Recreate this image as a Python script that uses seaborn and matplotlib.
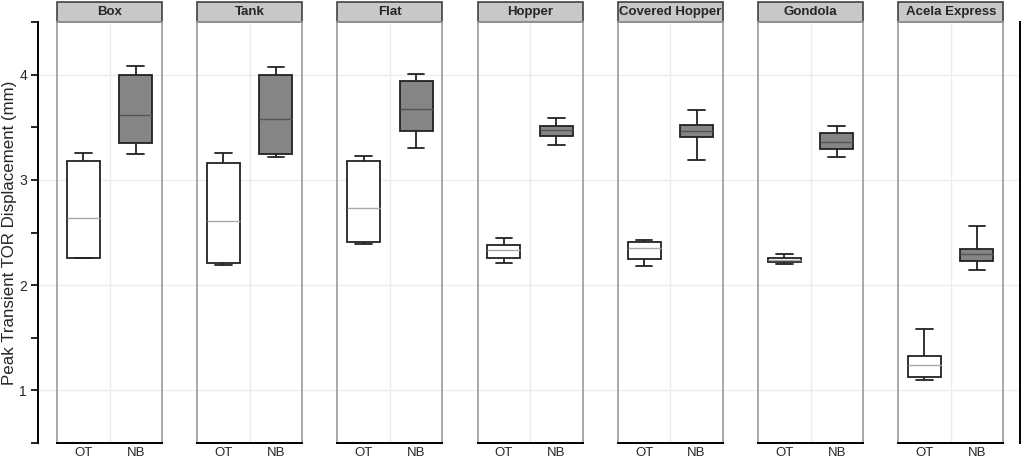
import numpy as np
import pandas as pd
import seaborn as sns
import matplotlib.pyplot as plt
from matplotlib.patches import Rectangle

cars = ["Box", "Tank", "Flat", "Hopper", "Covered Hopper", "Gondola", "Acela Express"]
conds = ["OT", "NB"]

# five-number summaries, per car: [OT, NB]
wlow = [[2.255, 3.25], [2.19, 3.22], [2.39, 3.30], [2.21, 3.33], [2.18, 3.19], [2.20, 3.22], [1.10, 2.14]]
q1 = [[2.26, 3.35], [2.21, 3.25], [2.41, 3.46], [2.26, 3.42], [2.25, 3.41], [2.22, 3.29], [1.13, 2.23]]
med = [[2.64, 3.62], [2.61, 3.58], [2.73, 3.67], [2.33, 3.47], [2.35, 3.46], [2.24, 3.36], [1.24, 2.30]]
q3 = [[3.18, 4.00], [3.16, 4.00], [3.18, 3.94], [2.38, 3.51], [2.41, 3.52], [2.26, 3.45], [1.33, 2.34]]
whigh = [[3.26, 4.08], [3.26, 4.07], [3.23, 4.01], [2.45, 3.59], [2.43, 3.66], [2.30, 3.51], [1.58, 2.56]]

# five points per box -> numpy quartiles land exactly on q1/med/q3
rows = []
for i, car in enumerate(cars):
    for j, c in enumerate(conds):
        for v in [wlow[i][j], q1[i][j], med[i][j], q3[i][j], whigh[i][j]]:
            rows.append({"car": car, "cond": c, "val": v})
df = pd.DataFrame(rows)

sns.set_style("white")
plt.rcParams["font.family"] = ["Liberation Sans", "DejaVu Sans"]

fig = plt.figure(figsize=(10.24, 4.59), dpi=100)
W, H = 1024, 459
bot = 1 - 443 / H
hgt = 421 / H

# background axis carrying the y scale, the grid and the right line
axy = fig.add_axes([38 / W, bot, (1020 - 38) / W, hgt])
axy.set_ylim(0.5, 4.5)
axy.set_xlim(0, 1)
axy.set_yticks([1, 2, 3, 4])
axy.set_yticks(np.arange(0.5, 4.51, 0.5), minor=True)
axy.set_xticks([])
axy.grid(axis="y", which="major", color="#ececec", linewidth=1)
axy.set_facecolor("none")
for s in ["top", "bottom"]:
    axy.spines[s].set_visible(False)
for s in ["left", "right"]:
    axy.spines[s].set_color("black")
    axy.spines[s].set_linewidth(1.4)
axy.tick_params(axis="y", which="both", direction="out", length=5, width=1.2,
                left=True, right=False, labelsize=10, color="black", pad=3)
axy.set_ylabel("Peak Transient TOR Displacement (mm)", fontsize=12.2)
axy.yaxis.set_label_coords(-21 / 982, 0.5)

pal = {"OT": "white", "NB": "#858585"}
med_col = {"OT": "#aaaaaa", "NB": "#555555"}

for i, car in enumerate(cars):
    x0 = 57 + i * 140.2
    ax = fig.add_axes([x0 / W, bot, 105 / W, hgt], sharey=axy)
    ax.set_facecolor("none")
    ax.axvline(0.5, color="#ececec", linewidth=1, zorder=0)
    sub = df[df["car"] == car]
    sns.boxplot(data=sub, x="cond", y="val", hue="cond", order=conds, hue_order=conds,
                palette=pal, width=0.63, whis=(0, 100), linecolor="#222222",
                linewidth=1.3, legend=False, ax=ax)
    for k, cont in enumerate(ax.containers):
        for m in cont.medians:
            m.set_color(med_col[conds[k]])
            m.set_linewidth(1.0)
    ax.set_xlim(-0.5, 1.5)
    ax.set_ylim(0.5, 4.5)
    ax.set_xlabel("")
    ax.set_ylabel("")
    ax.tick_params(axis="y", left=False, labelleft=False)
    ax.tick_params(axis="x", length=0, labelsize=9.5, pad=3)
    for s in ["left", "right", "top"]:
        ax.spines[s].set_visible(True)
        ax.spines[s].set_color("#9a9a9a")
        ax.spines[s].set_linewidth(1.2)
    ax.spines["bottom"].set_color("black")
    ax.spines["bottom"].set_linewidth(1.4)
    # strip header
    sh = 20 / 421
    ax.add_patch(Rectangle((0, 1), 1, sh, transform=ax.transAxes, clip_on=False,
                           facecolor="#c8c8c8", edgecolor="#333333", linewidth=1.1))
    ax.text(0.5, 1 + sh / 2, car, transform=ax.transAxes, ha="center", va="center",
            fontsize=9.5, fontweight="bold")

fig.savefig("out.png", dpi=100)
